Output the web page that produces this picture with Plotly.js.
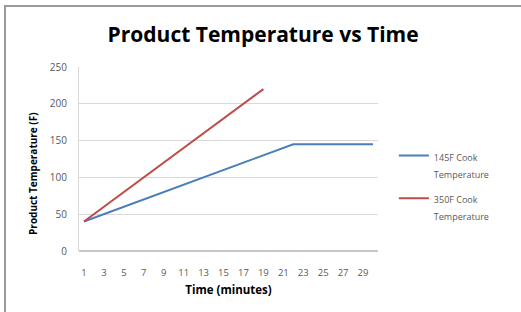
<!DOCTYPE html>
<html>
<head>
<meta charset="utf-8">
<script src="https://cdn.plot.ly/plotly-3.0.1.min.js"></script>
<style>
html,body{margin:0;padding:0;background:#fff;}
#wrap{position:relative;width:521px;height:312px;overflow:hidden;}
#chart{width:521px;height:312px;}
#frame{position:absolute;left:4px;top:5px;width:600px;height:400px;border-left:2px solid #9a9a9a;border-top:2px solid #9a9a9a;pointer-events:none;}
</style>
</head>
<body>
<div id="wrap"><div id="chart"></div><div id="frame"></div></div>
<script>
var minutes = [1,2,3,4,5,6,7,8,9,10,11,12,13,14,15,16,17,18,19,20,21,22,23,24,25,26,27,28,29,30];
var temp145 = [40,45,50,55,60,65,70,75,80,85,90,95,100,105,110,115,120,125,130,135,140,145,145,145,145,145,145,145,145,145];
var temp350 = [40,50,60,70,80,90,100,110,120,130,140,150,160,170,180,190,200,210,220];
var tickLabels = ['1','3','5','7','9','11','13','15','17','19','21','23','25','27','29'];
var tickVals = [1,3,5,7,9,11,13,15,17,19,21,23,25,27,29];
var seriesLines = [['145F Cook','Temperature'],['350F Cook','Temperature']];

function legendName(lines){
  return lines.map(function(s){return '<span style="font-size:9px">'+s+'</span>';}).join('<br>');
}

var traces = [
  {x: minutes, y: temp145, type:'scatter', mode:'lines', name: legendName(seriesLines[0]), legendgroup:'a',
   line:{color:'#4a7ebb', width:2}},
  {x: minutes.slice(0, temp350.length), y: temp350, type:'scatter', mode:'lines', name: legendName(seriesLines[1]), legendgroup:'b',
   line:{color:'#be4b48', width:2}}
];

var layout = {
  width:521, height:312,
  margin:{l:79, r:143, t:67, b:61},
  paper_bgcolor:'#fff', plot_bgcolor:'#fff',
  font:{family:'Open Sans, sans-serif', color:'#595959', size:9},
  showlegend:true,
  hovermode:false,
  title:{text:'<b>Product Temperature vs Time</b>', font:{size:21, color:'#000', family:'Open Sans, sans-serif'},
    xref:'container', x:0.505, xanchor:'center', yref:'container', y:0.888, yanchor:'middle'},
  xaxis:{range:[0.5,30.5], tickmode:'array', tickvals:tickVals, ticktext:tickLabels,
    showgrid:false, zeroline:false, showline:false, ticks:'', tickfont:{size:9.5, color:'#595959'},
    ticklabelstandoff:14,
    title:{text:'<b>Time (minutes)</b>', font:{size:11.5, color:'#000'}, standoff:8}},
  yaxis:{range:[0,250], dtick:50, showgrid:true, gridcolor:'#d9d9d9', gridwidth:1,
    zeroline:true, zerolinecolor:'#c8c8c8', zerolinewidth:1.5, showline:true, linecolor:'#d9d9d9', linewidth:1,
    ticks:'', tickfont:{size:10, color:'#595959'}, ticklabelstandoff:9},
  annotations:[{text:'<b>Product Temperature (F)</b>', textangle:-90, showarrow:false,
    xref:'paper', yref:'paper', x:-0.154, y:0.424, xanchor:'center', yanchor:'middle',
    font:{size:10, color:'#000'}}],
  legend:{x:1.053, xanchor:'left', y:0.6, yanchor:'top', valign:'top', traceorder:'grouped',
    font:{size:13, color:'#595959'}, tracegroupgap:6, bgcolor:'rgba(0,0,0,0)'}
};

Plotly.newPlot('chart', traces, layout, {displayModeBar:false, staticPlot:true});
</script>
</body>
</html>
